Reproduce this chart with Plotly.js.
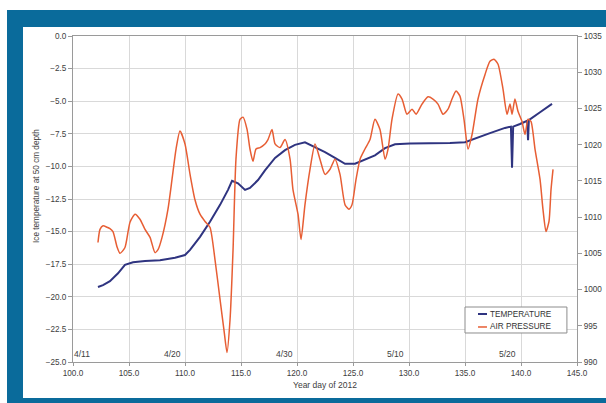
<!DOCTYPE html>
<html>
<head>
<meta charset="utf-8">
<script src="https://cdn.plot.ly/plotly-3.0.1.min.js"></script>
<style>
  html, body { margin: 0; padding: 0; background: #ffffff; width: 606px; height: 403px; overflow: hidden; }
  #frame { position: absolute; left: 7px; top: 10px; width: 599px; height: 393px; background: #0A6B9B; }
  #chart { position: absolute; left: 23px; top: 27px; width: 583px; height: 371px; background: #ffffff; }
</style>
</head>
<body>
<div id="frame"></div>
<div id="chart"></div>
<script>
// Ice temperature at 50 cm depth (left axis)
const tempDays = [102.23, 102.68, 103.30, 104.02, 104.64, 105.36, 106.43, 107.77, 109.11, 110.0,
  110.45, 111.34, 112.23, 113.13, 113.84, 114.20, 114.73, 115.36, 115.80, 116.52,
  117.14, 118.04, 118.93, 119.82, 120.71, 121.61, 122.50, 123.39, 124.29, 125.18,
  126.07, 126.96, 127.86, 128.75, 130.09, 131.88, 133.66, 135.0, 135.89, 137.23,
  138.57, 139.02, 139.1, 139.2, 139.3, 139.91, 140.55, 140.63, 140.7, 141.70, 142.77];
const tempVals = [-19.25, -19.1, -18.8, -18.2, -17.55, -17.35, -17.25, -17.2, -17.0, -16.8,
  -16.4, -15.4, -14.25, -12.95, -11.8, -11.1, -11.3, -11.8, -11.65, -11.05,
  -10.3, -9.35, -8.75, -8.35, -8.15, -8.5, -8.9, -9.35, -9.8, -9.8,
  -9.5, -9.15, -8.6, -8.3, -8.25, -8.25, -8.2, -8.15, -7.85, -7.45,
  -7.05, -7.0, -6.95, -10.1, -6.95, -6.75, -6.5, -8.0, -6.45, -5.85, -5.2];

// Air pressure (right axis)
const presDays = [102.23, 102.41, 102.68, 103.04, 103.30, 103.57, 103.93, 104.20, 104.64, 105.09,
  105.54, 105.98, 106.43, 106.88, 107.32, 107.59, 107.95, 108.48, 108.84, 109.20,
  109.55, 110.00, 110.45, 110.89, 111.34, 111.79, 112.23, 112.68, 113.13, 113.48,
  113.75, 114.02, 114.29, 114.55, 114.91, 115.18, 115.54, 115.80, 116.07, 116.34,
  116.70, 117.14, 117.41, 117.77, 118.04, 118.48, 118.93, 119.38, 119.64, 120.09,
  120.36, 120.71, 121.16, 121.61, 122.05, 122.50, 122.95, 123.39, 123.84, 124.29,
  124.64, 124.91, 125.27, 125.63, 126.07, 126.52, 126.96, 127.41, 127.86, 128.13,
  128.48, 129.02, 129.38, 129.82, 130.27, 130.63, 131.16, 131.70, 132.14, 132.59,
  133.04, 133.48, 133.84, 134.20, 134.55, 134.91, 135.27, 135.63, 136.16, 136.79,
  137.23, 137.59, 137.95, 138.39, 138.75, 139.02, 139.20, 139.46, 139.73, 140.09,
  140.36, 140.63, 140.89, 141.25, 141.70, 141.96, 142.23, 142.50, 142.68, 142.86];
const presVals = [1006.5, 1008.3, 1008.8, 1008.6, 1008.4, 1008.0, 1005.9, 1005.0, 1005.8, 1009.3,
  1010.4, 1009.7, 1008.3, 1007.2, 1005.1, 1005.5, 1007.2, 1011.1, 1015.2, 1019.4,
  1021.9, 1020.1, 1015.9, 1012.4, 1010.4, 1009.4, 1008.6, 1004.1, 998.6, 994.4,
  991.3, 995.8, 1005.5, 1018.0, 1023.5, 1023.8, 1022.1, 1019.4, 1017.7, 1019.4,
  1019.6, 1020.1, 1020.7, 1022.1, 1020.1, 1019.6, 1020.7, 1018.0, 1013.8, 1010.4,
  1006.9, 1011.7, 1016.6, 1020.1, 1018.0, 1015.9, 1016.6, 1018.0, 1015.9, 1011.7,
  1011.1, 1011.7, 1015.2, 1018.0, 1019.4, 1020.7, 1023.5, 1022.1, 1018.0, 1019.4,
  1023.5, 1027.0, 1026.3, 1024.2, 1024.9, 1024.2, 1025.6, 1026.6, 1026.3, 1025.6,
  1024.2, 1024.9, 1026.3, 1027.4, 1026.7, 1023.5, 1019.4, 1021.4, 1026.3, 1029.7,
  1031.5, 1031.8, 1031.1, 1027.7, 1024.2, 1025.6, 1024.2, 1026.3, 1024.6, 1023.2,
  1021.4, 1023.5, 1023.2, 1019.4, 1015.2, 1011.1, 1008.0, 1009.4, 1013.8, 1016.6];

// Date labels along the bottom of the plot
const dateLabels = ['4/11', '4/20', '4/30', '5/10', '5/20'];
const dateLabelDays = [100.8, 108.9, 118.9, 128.75, 138.8];

const seriesNames = ['TEMPERATURE', 'AIR PRESSURE'];
const seriesColors = ['#2F3480', '#E75E34'];

const FONT = 'Liberation Sans, Arial, sans-serif';
const tickFont = { family: FONT, size: 8.2, color: '#404040' };

const traces = [
  { x: tempDays, y: tempVals, name: seriesNames[0], type: 'scatter', mode: 'lines',
    line: { color: seriesColors[0], width: 2 }, yaxis: 'y', showlegend: false },
  { x: presDays, y: presVals, name: seriesNames[1], type: 'scatter', mode: 'lines',
    line: { color: seriesColors[1], width: 1.5, shape: 'spline', smoothing: 0.6 }, yaxis: 'y2', showlegend: false }
];

const annotations = dateLabels.map((t, i) => ({
  x: dateLabelDays[i], xref: 'x', y: 0, yref: 'paper', yanchor: 'bottom', yshift: 1,
  text: t, showarrow: false, font: { family: FONT, size: 8.5, color: '#404040' }
}));

// Left axis title placed as in the reference
annotations.push({
  x: 0, xref: 'paper', xshift: -36, xanchor: 'center',
  y: 0.54, yref: 'paper', yanchor: 'middle',
  text: 'Ice temperature at 50 cm depth', textangle: -90, showarrow: false,
  font: { family: FONT, size: 8.2, color: '#404040' }
});

// Compact legend box (Excel style), drawn with shapes + annotations
const legBox = { x0: 0.7778, x1: 0.980, y0: 0.089, y1: 0.1687 };
const legRowsY = [0.1472, 0.1074];
const shapes = [
  { type: 'rect', xref: 'paper', yref: 'paper', x0: legBox.x0, x1: legBox.x1, y0: legBox.y0, y1: legBox.y1,
    line: { color: '#8c8c8c', width: 1 }, fillcolor: '#ffffff', layer: 'above' }
];
seriesNames.forEach((n, i) => {
  shapes.push({ type: 'line', xref: 'paper', yref: 'paper', x0: 0.8036, x1: 0.8214,
    y0: legRowsY[i], y1: legRowsY[i], line: { color: seriesColors[i], width: i === 0 ? 2 : 1.5 }, layer: 'above' });
  annotations.push({ x: 0.8234, xref: 'paper', y: legRowsY[i], yref: 'paper', xanchor: 'left', yanchor: 'middle',
    text: n, showarrow: false, font: { family: FONT, size: 8.2, color: '#333333' } });
});

const layout = {
  width: 583, height: 371,
  margin: { l: 50, r: 29, t: 9, b: 36, pad: 0 },
  paper_bgcolor: '#ffffff', plot_bgcolor: '#ffffff',
  showlegend: false,
  xaxis: {
    range: [100, 145], dtick: 5, tick0: 100, tickformat: '.1f',
    showgrid: true, gridcolor: '#d9d9d9', gridwidth: 1,
    showline: true, linecolor: '#9a9a9a', linewidth: 1, mirror: true,
    ticks: 'outside', ticklen: 3, tickcolor: '#9a9a9a',
    zeroline: false, tickfont: tickFont,
    title: { text: 'Year day of 2012', font: { family: FONT, size: 8.5, color: '#404040' }, standoff: 5 }
  },
  yaxis: {
    range: [-25, 0], dtick: 2.5, tick0: 0, tickformat: '.1f',
    showgrid: true, gridcolor: '#d9d9d9', gridwidth: 1,
    showline: true, linecolor: '#9a9a9a', linewidth: 1, mirror: true,
    ticks: 'outside', ticklen: 4, tickcolor: '#9a9a9a',
    zeroline: false, tickfont: tickFont
  },
  yaxis2: {
    range: [990, 1035], dtick: 5, tick0: 990, overlaying: 'y', side: 'right',
    showgrid: false, showline: false, zeroline: false,
    ticks: 'outside', ticklen: 4, tickcolor: '#9a9a9a',
    tickfont: tickFont
  },
  shapes: shapes,
  annotations: annotations
};

Plotly.newPlot('chart', traces, layout, { displayModeBar: false, staticPlot: true });
</script>
</body>
</html>
